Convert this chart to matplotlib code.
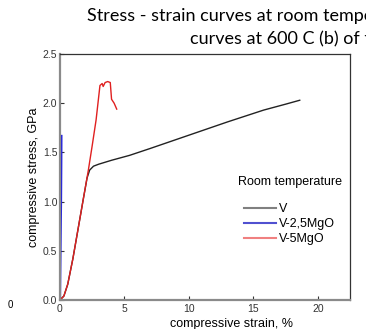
import matplotlib

matplotlib.use("Agg")

import matplotlib.pyplot as plt

# V (room temperature)
v_strain = [0.0, 0.3, 0.6, 1.0, 1.4, 1.8, 2.1, 2.3, 2.6, 3.0, 4.0, 5.4, 7.0, 9.0, 11.0, 13.0, 15.8, 17.5, 18.6]
v_stress = [0.0, 0.04, 0.16, 0.42, 0.72, 1.02, 1.24, 1.32, 1.36, 1.38, 1.42, 1.47, 1.54, 1.63, 1.72, 1.81, 1.93, 1.99, 2.03]

# V-2,5MgO
mgo25_strain = [0.02, 0.05, 0.08, 0.10, 0.12, 0.13]
mgo25_stress = [0.0, 0.4, 0.78, 1.0, 1.4, 1.67]

# V-5MgO
mgo5_strain = [0.0, 0.3, 0.6, 1.0, 1.4, 1.8, 2.2, 2.5, 2.8, 3.1, 3.27, 3.35, 3.5, 3.7, 3.9, 4.0, 4.2, 4.4]
mgo5_stress = [0.0, 0.04, 0.16, 0.42, 0.72, 1.02, 1.32, 1.57, 1.83, 2.18, 2.20, 2.17, 2.21, 2.22, 2.21, 2.04, 2.0, 1.94]

x_ticks = [0, 5, 10, 15, 20]
y_ticks = [0.0, 0.5, 1.0, 1.5, 2.0, 2.5]

fig = plt.figure(figsize=(3.66, 3.29), dpi=100)
fig.patch.set_facecolor("white")
ax = fig.add_axes([60 / 366, 1 - 300 / 329, 290 / 366, 246 / 329])

ax.plot(v_strain, v_stress, color="#222222", linewidth=1.0, label="V")
ax.plot(mgo25_strain, mgo25_stress, color="#2020e0", linewidth=1.2, label="V-2,5MgO")
ax.plot(mgo5_strain, mgo5_stress, color="#e02020", linewidth=1.0, label="V-5MgO")

ax.set_xlim(0, 22.5)
ax.set_ylim(0, 2.5)
ax.set_xticks(x_ticks)
ax.set_xticklabels([str(t) for t in x_ticks])
ax.set_yticks(y_ticks)
ax.set_yticklabels([f"{t:.1f}" for t in y_ticks])
ax.tick_params(direction="in", length=3, width=0.8, colors="#333333", labelsize=7.5, pad=2)
ax.tick_params(axis="x", pad=3)

for side in ["top", "right"]:
    ax.spines[side].set_color("#333333")
    ax.spines[side].set_linewidth(0.9)
for side in ["left", "bottom"]:
    ax.spines[side].set_color("#8a8a8a")
    ax.spines[side].set_linewidth(1.6)

ax.set_xlabel("compressive strain, %", fontsize=9, family="Liberation Sans")
ax.xaxis.set_label_coords(0.59, -0.075)
ax.set_ylabel("compressive stress, GPa", fontsize=9, family="Liberation Sans")
ax.yaxis.set_label_coords(-0.068, 0.5)

for lab in ax.get_xticklabels() + ax.get_yticklabels():
    lab.set_family("Liberation Sans")

handles, labels = ax.get_legend_handles_labels()
handle_colors = ["#808080", "#5050d0", "#f08080"]
leg = ax.legend(
    handles,
    labels,
    title="Room temperature",
    loc="upper left",
    bbox_to_anchor=(0.595, 0.525),
    frameon=False,
    title_fontsize=9,
    handlelength=2.6,
    handletextpad=0.25,
    labelspacing=0.25,
    borderaxespad=0,
    prop={"family": "Liberation Sans", "size": 9},
)
leg.get_title().set_family("Liberation Sans")
leg._legend_box.sep = 11
for line, c in zip(leg.get_lines(), handle_colors):
    line.set_color(c)
    line.set_linewidth(1.5)

fig.text(87 / 366, 1 - 16 / 329, "Stress - strain curves at room temperature (a) and",
         fontsize=13, family="Lato", ha="left", va="center")
fig.text(190 / 366, 1 - 39 / 329, "curves at 600 C (b) of the",
         fontsize=13, family="Lato", ha="left", va="center")
fig.text(10 / 366, 1 - 305 / 329, "0", fontsize=7, family="Liberation Sans", ha="center", va="center")

fig.savefig("out.png", dpi=100)
